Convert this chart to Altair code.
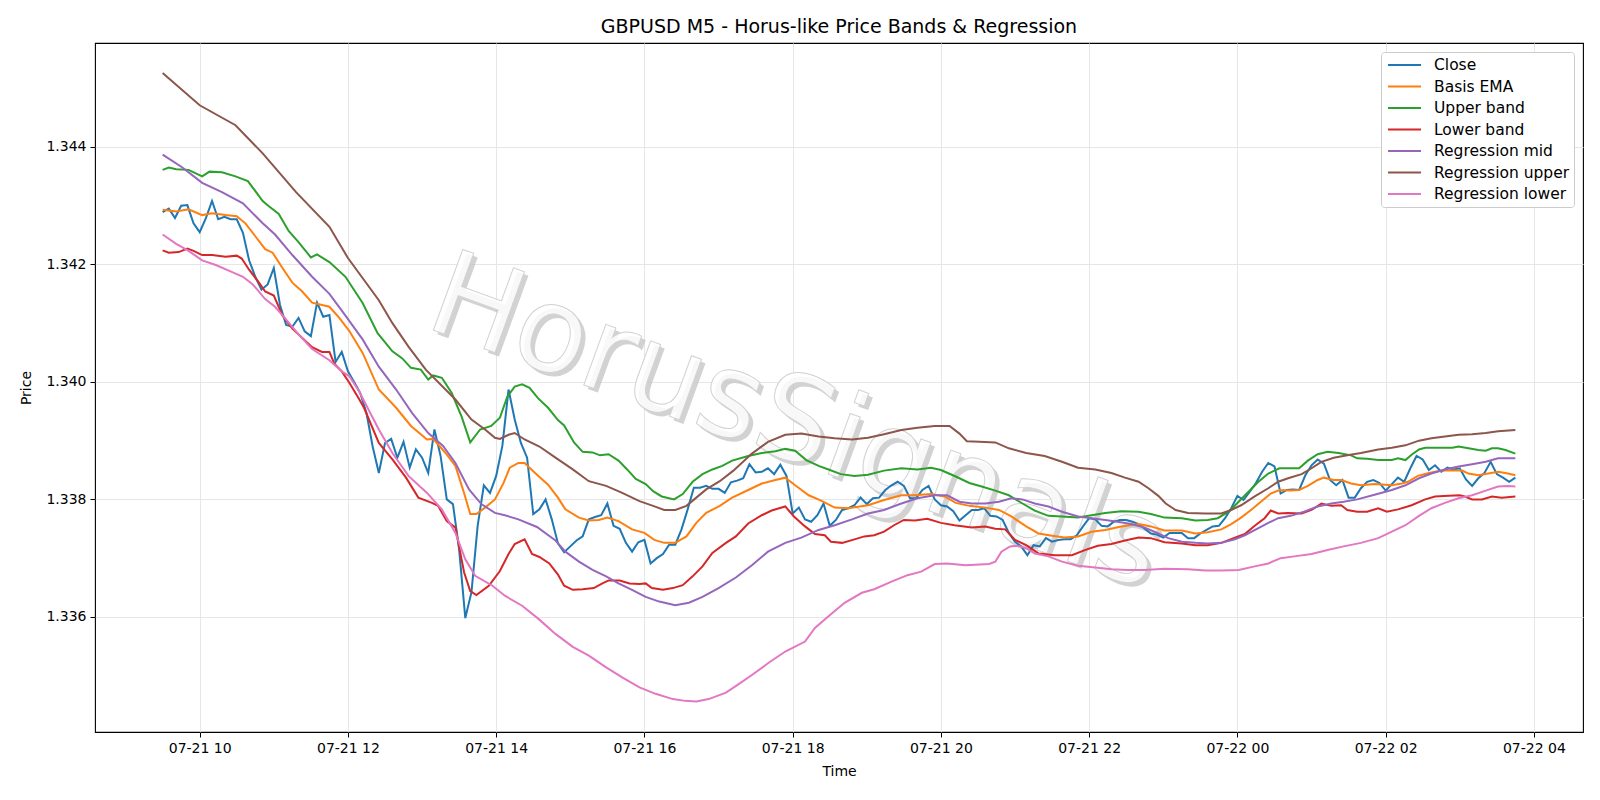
import altair as alt
import pandas as pd

# ---------------- data ----------------
START = pd.Timestamp("2025-07-21 09:30:00")

CLOSE = [
    1.34289, 1.34295, 1.34279, 1.34300, 1.34301, 1.34270, 1.34255, 1.34279, 1.34308, 1.34277,
    1.34281, 1.34277, 1.34277, 1.34254, 1.34207, 1.34179, 1.34157, 1.34166, 1.34194, 1.34131,
    1.34097, 1.34094, 1.34109, 1.34086, 1.34078, 1.34135, 1.34111, 1.34114, 1.34034, 1.34051,
    1.34018, 1.34000, 1.33981, 1.33947, 1.33890, 1.33845, 1.33896, 1.33903, 1.33871, 1.33898,
    1.33854, 1.33885, 1.33871, 1.33845, 1.33919, 1.33874, 1.33800, 1.33792, 1.33715, 1.33598,
    1.33642, 1.33755, 1.33824, 1.33811, 1.33840, 1.33891, 1.33987, 1.33936, 1.33896, 1.33871,
    1.33775, 1.33783, 1.33800, 1.33766, 1.33725, 1.33710, 1.33720, 1.33730, 1.33737, 1.33766,
    1.33770, 1.33773, 1.33793, 1.33755, 1.33750, 1.33726, 1.33711, 1.33727, 1.33731, 1.33691,
    1.33700, 1.33707, 1.33723, 1.33723, 1.33749, 1.33783, 1.33820, 1.33820, 1.33823, 1.33818,
    1.33818, 1.33811, 1.33829, 1.33832, 1.33836, 1.33860, 1.33846, 1.33847, 1.33853, 1.33843,
    1.33859, 1.33840, 1.33776, 1.33786, 1.33766, 1.33762, 1.33773, 1.33793, 1.33755, 1.33765,
    1.33782, 1.33785, 1.33790, 1.33803, 1.33792, 1.33802, 1.33803, 1.33816, 1.33824, 1.33830,
    1.33823, 1.33802, 1.33802, 1.33816, 1.33823, 1.33800, 1.33790, 1.33788, 1.33780, 1.33764,
    1.33773, 1.33782, 1.33782, 1.33785, 1.33772, 1.33771, 1.33765, 1.33743, 1.33728, 1.33720,
    1.33705, 1.33722, 1.33720, 1.33734, 1.33728, 1.33731, 1.33732, 1.33732, 1.33739, 1.33754,
    1.33768, 1.33766, 1.33755, 1.33754, 1.33762, 1.33765, 1.33765, 1.33762, 1.33758, 1.33750,
    1.33742, 1.33740, 1.33735, 1.33743, 1.33743, 1.33743, 1.33734, 1.33734, 1.33742, 1.33748,
    1.33754, 1.33755, 1.33768, 1.33785, 1.33806, 1.33799, 1.33813, 1.33828, 1.33847, 1.33862,
    1.33856, 1.33810, 1.33816, 1.33817, 1.33816, 1.33841, 1.33858, 1.33868, 1.33861, 1.33833,
    1.33824, 1.33833, 1.33803, 1.33803, 1.33819, 1.33830, 1.33833, 1.33828, 1.33815, 1.33826,
    1.33837, 1.33830, 1.33853, 1.33874, 1.33868, 1.33850, 1.33858, 1.33847, 1.33854, 1.33851,
    1.33853, 1.33834, 1.33823, 1.33836, 1.33845, 1.33864, 1.33843, 1.33837, 1.33830, 1.33837,
]
CLOSE_STEP_MIN = 5

# minutes after 09:30 / price
BASIS_T = [0, 11, 21, 32, 40, 51, 60, 67, 75, 83, 89, 97, 105, 113, 121, 135, 143, 151, 162, 175,
           189, 201, 214, 219, 229, 237, 244, 249, 254, 261, 269, 276, 281, 288, 293, 300, 305, 312,
           320, 326, 337, 345, 353, 360, 369, 380, 390, 398, 406, 415, 424, 432, 440, 451, 461, 474,
           485, 496, 504, 512, 523, 533, 544, 555, 571, 584, 598, 609, 622, 633, 642, 653, 666, 677,
           687, 699, 709, 720, 730, 741, 752, 763, 776, 790, 800, 811, 825, 836, 846, 857, 865, 873,
           881, 889, 897, 904, 913, 920, 927, 935, 940, 948, 954, 962, 970, 981, 995, 1003, 1008,
           1016, 1025, 1035, 1046, 1052, 1057, 1065, 1073, 1081, 1089, 1095]
BASIS_V = [1.34293, 1.34290, 1.34294, 1.34284, 1.34287, 1.34284, 1.34282, 1.34270, 1.34248, 1.34226,
           1.34220, 1.34194, 1.34169, 1.34154, 1.34135, 1.34128, 1.34109, 1.34087, 1.34049, 1.33987,
           1.33956, 1.33925, 1.33902, 1.33903, 1.33879, 1.33857, 1.33811, 1.33775, 1.33775, 1.33786,
           1.33800, 1.33828, 1.33854, 1.33862, 1.33862, 1.33848, 1.33838, 1.33825, 1.33803, 1.33783,
           1.33769, 1.33764, 1.33765, 1.33769, 1.33763, 1.33749, 1.33743, 1.33731, 1.33726, 1.33726,
           1.33737, 1.33760, 1.33777, 1.33789, 1.33803, 1.33816, 1.33827, 1.33833, 1.33837, 1.33824,
           1.33807, 1.33798, 1.33786, 1.33785, 1.33790, 1.33799, 1.33807, 1.33807, 1.33809, 1.33805,
           1.33794, 1.33789, 1.33786, 1.33782, 1.33771, 1.33754, 1.33742, 1.33738, 1.33735, 1.33737,
           1.33745, 1.33748, 1.33754, 1.33758, 1.33754, 1.33747, 1.33747, 1.33742, 1.33744, 1.33749,
           1.33758, 1.33769, 1.33782, 1.33796, 1.33810, 1.33816, 1.33815, 1.33816, 1.33823, 1.33833,
           1.33837, 1.33833, 1.33833, 1.33827, 1.33824, 1.33826, 1.33824, 1.33827, 1.33830, 1.33840,
           1.33845, 1.33849, 1.33849, 1.33849, 1.33844, 1.33841, 1.33844, 1.33847, 1.33844, 1.33841]

UPPER_T = [0, 5, 11, 21, 32, 38, 48, 59, 69, 81, 86, 94, 102, 110, 120, 125, 135, 148, 162, 174,
           186, 194, 201, 209, 215, 219, 226, 234, 242, 249, 257, 266, 273, 279, 285, 291, 297, 304,
           312, 320, 325, 333, 340, 348, 354, 361, 369, 376, 383, 391, 397, 404, 414, 421, 429, 437,
           445, 453, 461, 474, 485, 496, 504, 512, 521, 531, 539, 549, 560, 571, 584, 598, 611, 622,
           630, 642, 653, 663, 674, 685, 696, 706, 717, 728, 741, 752, 763, 776, 790, 800, 811, 825,
           836, 846, 854, 863, 871, 879, 887, 895, 904, 913, 920, 927, 935, 943, 952, 962, 967, 975,
           984, 995, 1000, 1006, 1011, 1017, 1022, 1033, 1044, 1049, 1057, 1065, 1071, 1076, 1081,
           1087, 1095]
UPPER_V = [1.34361, 1.34365, 1.34362, 1.34361, 1.34350, 1.34358, 1.34357, 1.34350, 1.34342, 1.34308,
           1.34299, 1.34286, 1.34257, 1.34238, 1.34212, 1.34217, 1.34204, 1.34179, 1.34134, 1.34083,
           1.34052, 1.34040, 1.34024, 1.34021, 1.34004, 1.34011, 1.34007, 1.33981, 1.33941, 1.33897,
           1.33919, 1.33925, 1.33939, 1.33975, 1.33992, 1.33996, 1.33990, 1.33972, 1.33956, 1.33935,
           1.33926, 1.33897, 1.33881, 1.33880, 1.33875, 1.33877, 1.33866, 1.33851, 1.33835, 1.33826,
           1.33814, 1.33805, 1.33800, 1.33809, 1.33830, 1.33843, 1.33851, 1.33857, 1.33866, 1.33874,
           1.33879, 1.33882, 1.33886, 1.33883, 1.33867, 1.33857, 1.33851, 1.33843, 1.33840, 1.33842,
           1.33849, 1.33853, 1.33851, 1.33854, 1.33850, 1.33839, 1.33828, 1.33822, 1.33815, 1.33807,
           1.33793, 1.33781, 1.33772, 1.33771, 1.33769, 1.33773, 1.33777, 1.33780, 1.33779, 1.33775,
           1.33769, 1.33768, 1.33764, 1.33765, 1.33768, 1.33779, 1.33796, 1.33813, 1.33830, 1.33844,
           1.33853, 1.33853, 1.33853, 1.33866, 1.33877, 1.33881, 1.33879, 1.33875, 1.33870, 1.33869,
           1.33867, 1.33867, 1.33870, 1.33867, 1.33876, 1.33885, 1.33888, 1.33888, 1.33888, 1.33890,
           1.33887, 1.33884, 1.33883, 1.33887, 1.33887, 1.33884, 1.33878]

LOWER_T = [0, 5, 13, 20, 25, 32, 40, 51, 60, 64, 70, 78, 83, 90, 97, 105, 113, 121, 129, 135, 139,
           145, 151, 159, 163, 175, 186, 197, 207, 218, 223, 230, 237, 244, 249, 254, 264, 273, 280,
           285, 293, 299, 305, 313, 320, 325, 332, 340, 349, 356, 361, 370, 378, 386, 391, 396, 405,
           413, 421, 429, 437, 445, 456, 464, 474, 485, 493, 504, 511, 520, 528, 536, 541, 550, 560,
           568, 576, 584, 592, 600, 609, 619, 630, 641, 655, 666, 674, 682, 690, 699, 709, 722, 736,
           747, 757, 768, 779, 790, 800, 811, 825, 836, 846, 857, 868, 876, 884, 892, 897, 903, 911,
           922, 930, 938, 946, 954, 959, 967, 975, 984, 991, 1000, 1011, 1022, 1030, 1041, 1050,
           1054, 1060, 1068, 1076, 1084, 1095]
LOWER_V = [1.34224, 1.34220, 1.34221, 1.34227, 1.34223, 1.34216, 1.34216, 1.34213, 1.34215, 1.34210,
           1.34191, 1.34169, 1.34154, 1.34147, 1.34113, 1.34091, 1.34075, 1.34059, 1.34051, 1.34051,
           1.34031, 1.34018, 1.33999, 1.33971, 1.33956, 1.33896, 1.33868, 1.33837, 1.33803, 1.33794,
           1.33789, 1.33763, 1.33752, 1.33676, 1.33644, 1.33637, 1.33653, 1.33678, 1.33707, 1.33724,
           1.33732, 1.33707, 1.33702, 1.33691, 1.33672, 1.33653, 1.33646, 1.33647, 1.33649, 1.33657,
           1.33662, 1.33662, 1.33657, 1.33656, 1.33657, 1.33649, 1.33646, 1.33649, 1.33654, 1.33669,
           1.33686, 1.33709, 1.33726, 1.33737, 1.33759, 1.33773, 1.33781, 1.33788, 1.33771, 1.33754,
           1.33741, 1.33739, 1.33728, 1.33726, 1.33732, 1.33737, 1.33739, 1.33745, 1.33756, 1.33765,
           1.33764, 1.33767, 1.33760, 1.33756, 1.33752, 1.33754, 1.33750, 1.33749, 1.33731, 1.33722,
           1.33708, 1.33705, 1.33705, 1.33714, 1.33721, 1.33724, 1.33730, 1.33735, 1.33734, 1.33727,
           1.33725, 1.33722, 1.33722, 1.33726, 1.33735, 1.33741, 1.33755, 1.33768, 1.33781, 1.33776,
           1.33777, 1.33776, 1.33782, 1.33793, 1.33789, 1.33790, 1.33782, 1.33779, 1.33779, 1.33785,
           1.33779, 1.33783, 1.33790, 1.33800, 1.33805, 1.33806, 1.33807, 1.33805, 1.33800, 1.33800,
           1.33805, 1.33803, 1.33805]

REGMID_T = [0, 16, 32, 48, 65, 81, 91, 105, 121, 135, 148, 162, 175, 189, 202, 215, 227, 237, 248,
            258, 269, 277, 288, 303, 318, 326, 337, 348, 359, 369, 380, 391, 402, 415, 426, 437, 450,
            464, 477, 490, 504, 517, 531, 544, 558, 571, 584, 598, 611, 625, 635, 645, 655, 666, 677,
            687, 696, 706, 717, 728, 741, 752, 763, 773, 784, 795, 806, 814, 825, 836, 846, 857, 868,
            876, 887, 895, 903, 913, 924, 935, 946, 956, 967, 981, 995, 1006, 1017, 1027, 1038, 1049,
            1060, 1071, 1081, 1089, 1095]
REGMID_V = [1.34387, 1.34365, 1.34339, 1.34323, 1.34304, 1.34270, 1.34251, 1.34216, 1.34179, 1.34150,
            1.34113, 1.34072, 1.34026, 1.33987, 1.33947, 1.33913, 1.33891, 1.33862, 1.33817, 1.33792,
            1.33777, 1.33773, 1.33766, 1.33753, 1.33730, 1.33711, 1.33694, 1.33680, 1.33669, 1.33657,
            1.33646, 1.33634, 1.33626, 1.33620, 1.33624, 1.33634, 1.33649, 1.33667, 1.33688, 1.33711,
            1.33726, 1.33735, 1.33748, 1.33756, 1.33766, 1.33776, 1.33782, 1.33793, 1.33802, 1.33807,
            1.33807, 1.33796, 1.33793, 1.33793, 1.33796, 1.33802, 1.33800, 1.33793, 1.33788, 1.33779,
            1.33771, 1.33768, 1.33765, 1.33762, 1.33758, 1.33752, 1.33742, 1.33734, 1.33728, 1.33726,
            1.33725, 1.33726, 1.33732, 1.33739, 1.33751, 1.33760, 1.33768, 1.33772, 1.33779, 1.33788,
            1.33793, 1.33796, 1.33800, 1.33808, 1.33816, 1.33824, 1.33836, 1.33844, 1.33851, 1.33856,
            1.33860, 1.33864, 1.33870, 1.33870, 1.33870]

REGUP_T = [0, 30, 59, 81, 108, 135, 150, 175, 186, 199, 213, 237, 250, 261, 269, 273, 280, 285, 293,
           305, 318, 332, 345, 359, 372, 386, 397, 406, 415, 424, 432, 440, 451, 462, 477, 490, 504,
           517, 531, 544, 558, 571, 584, 598, 611, 625, 637, 645, 651, 661, 674, 685, 699, 714, 728,
           741, 755, 768, 779, 790, 798, 806, 812, 820, 830, 844, 857, 865, 873, 884, 895, 903, 911,
           922, 930, 938, 948, 959, 970, 984, 995, 1006, 1017, 1027, 1038, 1049, 1060, 1071, 1081,
           1095]
REGUP_V = [1.34526, 1.34471, 1.34437, 1.34389, 1.34323, 1.34264, 1.34211, 1.34139, 1.34100, 1.34060,
           1.34021, 1.33970, 1.33936, 1.33919, 1.33905, 1.33903, 1.33910, 1.33913, 1.33902, 1.33890,
           1.33871, 1.33851, 1.33831, 1.33823, 1.33811, 1.33797, 1.33789, 1.33782, 1.33782, 1.33789,
           1.33803, 1.33817, 1.33831, 1.33849, 1.33878, 1.33898, 1.33910, 1.33912, 1.33907, 1.33904,
           1.33902, 1.33905, 1.33911, 1.33918, 1.33922, 1.33925, 1.33925, 1.33912, 1.33899, 1.33898,
           1.33897, 1.33887, 1.33879, 1.33874, 1.33864, 1.33854, 1.33851, 1.33845, 1.33837, 1.33830,
           1.33819, 1.33806, 1.33793, 1.33782, 1.33777, 1.33776, 1.33776, 1.33782, 1.33790, 1.33805,
           1.33819, 1.33830, 1.33836, 1.33843, 1.33853, 1.33864, 1.33871, 1.33875, 1.33879, 1.33885,
           1.33888, 1.33892, 1.33900, 1.33904, 1.33907, 1.33910, 1.33911, 1.33913, 1.33916, 1.33918]

REGLO_T = [0, 11, 21, 32, 43, 54, 65, 73, 83, 91, 100, 110, 121, 135, 145, 151, 159, 175, 186, 199,
           214, 226, 237, 245, 253, 267, 277, 291, 304, 318, 332, 345, 359, 372, 386, 399, 413, 423,
           432, 442, 456, 466, 477, 490, 504, 520, 528, 539, 552, 566, 576, 590, 603, 614, 625, 635,
           650, 669, 674, 679, 686, 692, 699, 706, 717, 728, 741, 755, 768, 781, 795, 811, 830, 844,
           857, 871, 884, 895, 905, 916, 930, 943, 956, 970, 984, 995, 1006, 1017, 1027, 1038, 1049,
           1060, 1071, 1081, 1089, 1095]
REGLO_V = [1.34251, 1.34235, 1.34223, 1.34207, 1.34199, 1.34189, 1.34179, 1.34166, 1.34141, 1.34128,
           1.34106, 1.34081, 1.34056, 1.34037, 1.34018, 1.34010, 1.33984, 1.33919, 1.33879, 1.33840,
           1.33811, 1.33783, 1.33743, 1.33698, 1.33670, 1.33653, 1.33636, 1.33619, 1.33597, 1.33571,
           1.33549, 1.33534, 1.33514, 1.33497, 1.33480, 1.33469, 1.33460, 1.33457, 1.33456, 1.33460,
           1.33471, 1.33485, 1.33501, 1.33521, 1.33541, 1.33558, 1.33581, 1.33601, 1.33624, 1.33641,
           1.33647, 1.33660, 1.33671, 1.33677, 1.33690, 1.33691, 1.33688, 1.33690, 1.33694, 1.33711,
           1.33720, 1.33721, 1.33717, 1.33708, 1.33703, 1.33694, 1.33687, 1.33684, 1.33681, 1.33680,
           1.33680, 1.33682, 1.33681, 1.33679, 1.33679, 1.33680, 1.33686, 1.33691, 1.33700, 1.33703,
           1.33707, 1.33714, 1.33720, 1.33726, 1.33734, 1.33745, 1.33756, 1.33772, 1.33785, 1.33794,
           1.33802, 1.33807, 1.33815, 1.33822, 1.33823, 1.33822]

SERIES = ["Close", "Basis EMA", "Upper band", "Lower band",
          "Regression mid", "Regression upper", "Regression lower"]
COLORS = ["#1f77b4", "#ff7f0e", "#2ca02c", "#d62728", "#9467bd", "#8c564b", "#e377c2"]

Y_TICKS = [1.336, 1.338, 1.340, 1.342, 1.344]
X_TICK_HOURS = [10, 12, 14, 16, 18, 20, 22, 24, 26, 28]

TITLE = "GBPUSD M5 - Horus-like Price Bands & Regression"
WATERMARK = "HorusSignals"
FONT = "DejaVu Sans"

# ---------------- build tables ----------------
def make_frame(name, minutes, values):
    times = [(START + pd.Timedelta(minutes=m)).strftime("%Y-%m-%dT%H:%M:%SZ") for m in minutes]
    return pd.DataFrame({"time": times, "price": values, "series": name})

close_minutes = [i * CLOSE_STEP_MIN for i in range(len(CLOSE))]
frames = {
    "Close": make_frame("Close", close_minutes, CLOSE),
    "Basis EMA": make_frame("Basis EMA", BASIS_T, BASIS_V),
    "Upper band": make_frame("Upper band", UPPER_T, UPPER_V),
    "Lower band": make_frame("Lower band", LOWER_T, LOWER_V),
    "Regression mid": make_frame("Regression mid", REGMID_T, REGMID_V),
    "Regression upper": make_frame("Regression upper", REGUP_T, REGUP_V),
    "Regression lower": make_frame("Regression lower", REGLO_T, REGLO_V),
}

span_min = close_minutes[-1]
pad_min = 0.05 * span_min
x_lo = START - pd.Timedelta(minutes=pad_min)
x_hi = START + pd.Timedelta(minutes=span_min + pad_min)


def dt(ts):
    return alt.DateTime(year=ts.year, month=ts.month, date=ts.day, hours=ts.hour,
                        minutes=ts.minute, seconds=ts.second, utc=True)


day0 = pd.Timestamp("2025-07-21 00:00:00")
x_tick_values = [dt(day0 + pd.Timedelta(hours=h)) for h in X_TICK_HOURS]

x_enc = alt.X(
    "time:T",
    scale=alt.Scale(type="utc", domain=[dt(x_lo), dt(x_hi)], nice=False),
    axis=alt.Axis(title="Time", values=x_tick_values,
                  labelExpr="utcFormat(datum.value, '%m-%d %H')",
                  labelAngle=0, titlePadding=9),
)
y_enc = alt.Y(
    "price:Q",
    scale=alt.Scale(domain=[1.33404, 1.34577], nice=False, zero=False),
    axis=alt.Axis(title="Price", values=Y_TICKS, format=".3f", titlePadding=12),
)
color_enc = alt.Color(
    "series:N",
    scale=alt.Scale(domain=SERIES, range=COLORS),
    legend=alt.Legend(
        title=None, orient="top-right", offset=9,
        symbolType="M-0.75,0H3.375", symbolSize=256, symbolStrokeWidth=2,
        labelFontSize=15.5, labelFont=FONT, labelColor="black",
        rowPadding=3.5, labelOffset=31, padding=4, fillColor="white", strokeColor="#cccccc",
        cornerRadius=3, labelLimit=300,
    ),
)

wm_df = pd.DataFrame({"t": [WATERMARK]})
wm_shadow = alt.Chart(wm_df).mark_text(
    font=FONT, fontSize=118, angle=20, align="center", baseline="middle",
    color="#c4c4c4", opacity=0.75,
).encode(text="t:N", x=alt.value(705), y=alt.value(386))
wm_front = alt.Chart(wm_df).mark_text(
    font=FONT, fontSize=118, angle=20, align="center", baseline="middle",
    fill="white", fillOpacity=0.85, stroke="#d2d2d2", strokeWidth=1,
).encode(text="t:N", x=alt.value(701), y=alt.value(382))

lines = [
    alt.Chart(frames[s]).mark_line(strokeWidth=2, clip=True).encode(
        x=x_enc, y=y_enc, color=color_enc
    )
    for s in SERIES
]

chart = alt.layer(wm_shadow, wm_front, *lines).properties(
    width=1488,
    height=689,
    background="white",
    title=alt.TitleParams(TITLE, font=FONT, fontSize=19, fontWeight="normal",
                          color="black", anchor="middle", offset=6),
    autosize=alt.AutoSizeParams(type="none"),
    padding={"left": 95, "top": 43, "right": 17, "bottom": 68},
).configure_view(
    stroke="black", strokeWidth=1.1
).configure_axis(
    domain=False, grid=True, gridColor="#e6e6e6", gridWidth=1,
    tickColor="black", tickSize=5, tickWidth=1, labelPadding=4,
    labelFont=FONT, labelFontSize=14, labelColor="black",
    titleFont=FONT, titleFontSize=14, titleFontWeight="normal", titleColor="black",
)

chart.save("out.html", embed_options={"renderer": "svg", "actions": False})
